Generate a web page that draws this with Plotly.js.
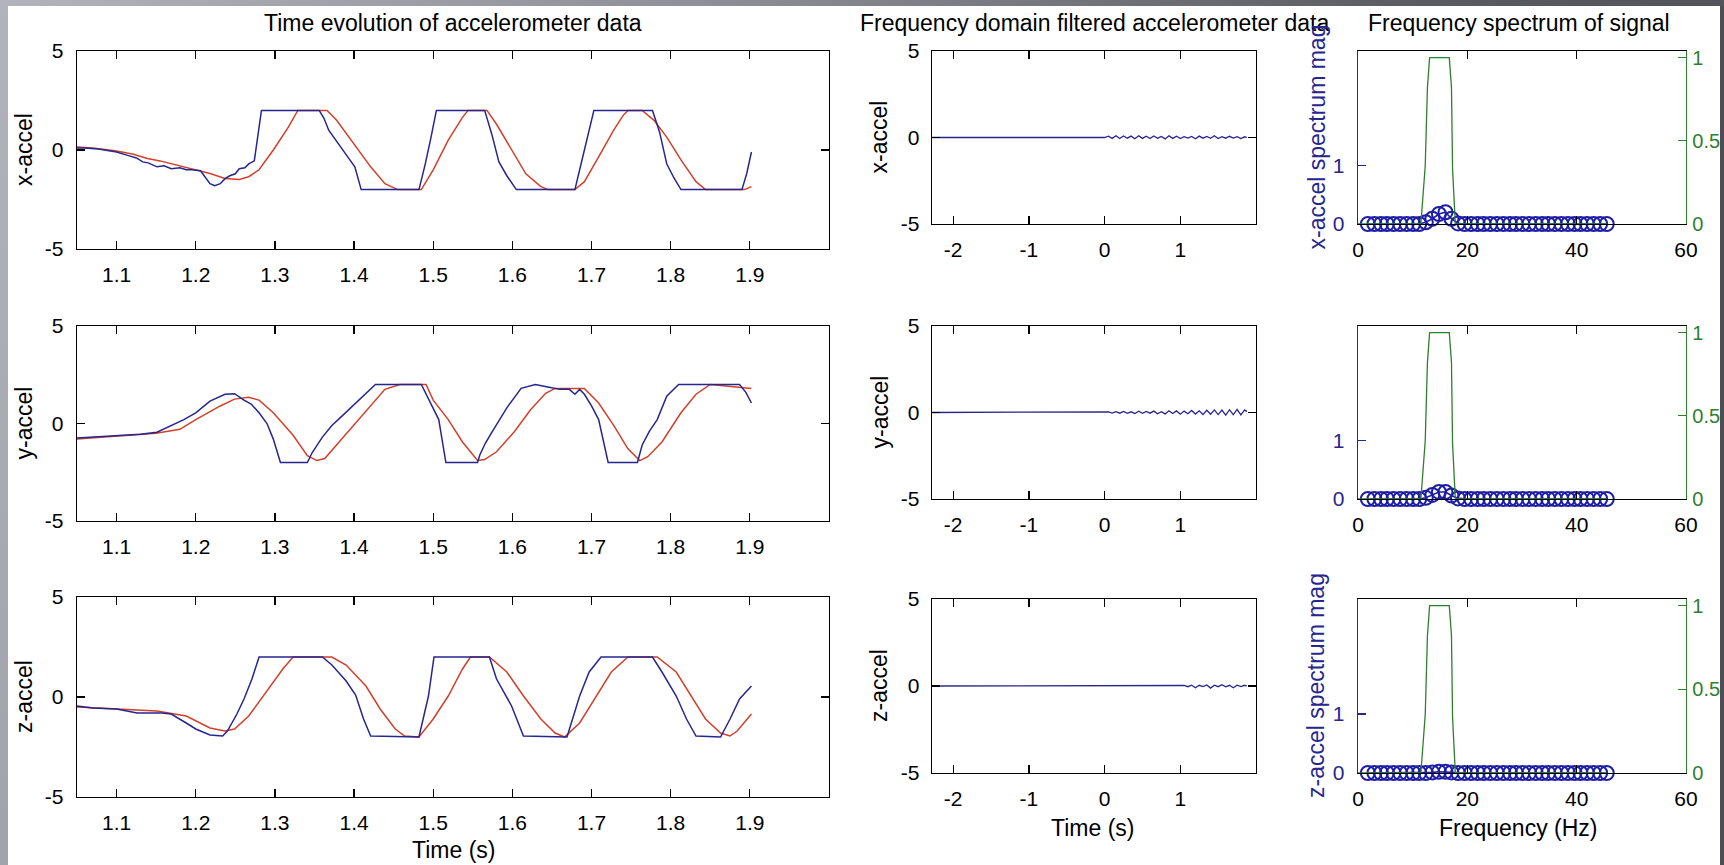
<!DOCTYPE html>
<html>
<head>
<meta charset="utf-8">
<script src="https://cdn.plot.ly/plotly-3.0.1.min.js"></script>
<style>
html,body{margin:0;padding:0;width:1724px;height:865px;overflow:hidden;
background:linear-gradient(110deg,#b3b3bb 0%,#8e8e96 35%,#5a5a61 70%,#4c4c52 100%);}
#chart{position:absolute;left:8px;top:6px;width:1716px;height:859px;background:#fff;}
</style>
</head>
<body>
<div id="chart"></div>
<script>
// ---------- DATA ----------
// Time evolution (left column): blue = raw, red = smoothed
const tXblue = [1.05,1.06,1.077,1.09,1.10,1.114,1.125,1.133,1.14,1.151,1.16,1.169,1.18,1.188,1.195,1.206,1.212,1.218,1.224,1.231,1.237,1.243,1.25,1.255,1.262,1.267,1.274,1.283,1.356,1.362,1.368,1.38,1.392,1.401,1.409,1.482,1.49,1.497,1.504,1.565,1.574,1.583,1.593,1.605,1.679,1.691,1.703,1.777,1.786,1.795,1.804,1.813,1.89,1.896,1.902];
const xAccelBlue = [0.1,0.1,0.05,-0.05,-0.1,-0.27,-0.4,-0.6,-0.65,-0.85,-0.8,-0.95,-0.9,-1.0,-1.0,-1.05,-1.35,-1.7,-1.8,-1.7,-1.45,-1.3,-1.2,-0.95,-0.9,-0.7,-0.55,2.0,2.0,1.6,1.0,0.3,-0.35,-0.85,-2.0,-2.0,-0.7,0.6,2.0,2.0,0.8,-0.6,-1.3,-2.0,-2.0,0.0,2.0,2.0,0.9,-0.7,-1.4,-2.0,-2.0,-1.2,-0.1];
const tXred = [1.05,1.07,1.09,1.10,1.12,1.139,1.155,1.169,1.185,1.2,1.218,1.237,1.255,1.267,1.28,1.298,1.317,1.329,1.366,1.378,1.396,1.421,1.439,1.455,1.485,1.5,1.519,1.537,1.544,1.568,1.58,1.599,1.617,1.636,1.645,1.679,1.691,1.709,1.728,1.74,1.746,1.764,1.779,1.795,1.813,1.832,1.844,1.893,1.902];
const xAccelRed = [0.15,0.1,0.0,-0.05,-0.2,-0.43,-0.55,-0.69,-0.85,-0.99,-1.19,-1.44,-1.49,-1.35,-1.0,0.0,1.15,2.0,2.0,1.5,0.5,-0.85,-1.7,-2.0,-2.0,-1.0,0.5,1.65,2.0,2.0,1.3,0.0,-1.2,-1.85,-2.0,-2.0,-1.6,-0.35,1.0,1.75,2.0,2.0,1.5,0.65,-0.5,-1.6,-2.0,-2.0,-1.85];

const tYblue = [1.05,1.07,1.1,1.13,1.151,1.169,1.185,1.2,1.218,1.237,1.249,1.261,1.27,1.28,1.29,1.298,1.307,1.341,1.347,1.36,1.372,1.384,1.396,1.415,1.427,1.485,1.488,1.497,1.507,1.516,1.556,1.559,1.566,1.574,1.593,1.611,1.629,1.648,1.66,1.672,1.679,1.685,1.691,1.7,1.709,1.721,1.758,1.764,1.773,1.783,1.795,1.81,1.887,1.895,1.902];
const yAccelBlue = [-0.75,-0.7,-0.6,-0.55,-0.45,-0.1,0.2,0.55,1.15,1.5,1.53,1.2,1.0,0.55,0.0,-0.8,-2.0,-2.0,-1.5,-0.7,-0.1,0.35,0.8,1.55,2.0,2.0,1.75,1.0,0.2,-2.0,-2.0,-1.6,-1.0,-0.45,0.8,1.8,2.0,1.85,1.75,1.75,1.5,1.75,1.5,0.9,0.2,-2.0,-2.0,-1.1,-0.4,0.2,1.4,2.0,2.0,1.6,1.05];
const tYred = [1.05,1.1,1.15,1.18,1.2,1.231,1.249,1.267,1.28,1.298,1.323,1.341,1.353,1.363,1.378,1.399,1.421,1.439,1.458,1.491,1.5,1.519,1.537,1.556,1.565,1.58,1.602,1.623,1.642,1.654,1.691,1.709,1.728,1.746,1.761,1.771,1.789,1.813,1.832,1.85,1.902];
const yAccelRed = [-0.8,-0.65,-0.5,-0.3,0.2,0.9,1.25,1.35,1.2,0.55,-0.6,-1.65,-1.9,-1.8,-1.1,-0.1,0.9,1.75,2.0,2.0,1.2,0.2,-0.95,-1.9,-1.85,-1.45,-0.45,0.7,1.55,1.8,1.8,1.05,-0.1,-1.3,-1.9,-1.7,-0.95,0.55,1.5,2.0,1.8];

const tZblue = [1.05,1.07,1.1,1.126,1.157,1.169,1.188,1.2,1.218,1.234,1.24,1.252,1.261,1.271,1.28,1.36,1.372,1.39,1.402,1.412,1.421,1.482,1.494,1.501,1.571,1.58,1.599,1.614,1.669,1.685,1.697,1.712,1.777,1.789,1.807,1.82,1.832,1.863,1.875,1.887,1.902];
const zAccelBlue = [-0.45,-0.55,-0.6,-0.8,-0.8,-0.85,-1.3,-1.6,-1.9,-1.95,-1.7,-0.85,-0.1,0.9,2.0,2.0,1.6,0.8,0.1,-1.1,-1.95,-2.0,0.05,2.0,2.0,0.9,-0.45,-1.95,-2.0,0.05,1.25,2.0,2.0,1.25,0.05,-1.1,-1.95,-2.0,-1.1,-0.1,0.55];
const tZred = [1.05,1.1,1.151,1.188,1.2,1.218,1.237,1.249,1.267,1.289,1.31,1.323,1.372,1.39,1.415,1.433,1.452,1.464,1.482,1.5,1.519,1.537,1.547,1.571,1.593,1.614,1.636,1.654,1.666,1.685,1.706,1.725,1.746,1.783,1.807,1.826,1.844,1.863,1.875,1.884,1.902];
const zAccelRed = [-0.5,-0.6,-0.7,-0.95,-1.2,-1.55,-1.7,-1.6,-0.95,0.25,1.4,2.0,2.0,1.6,0.55,-0.6,-1.6,-1.95,-2.0,-1.1,0.05,1.4,2.0,2.0,1.25,0.05,-1.1,-1.8,-2.0,-1.3,0.05,1.25,2.0,2.0,1.25,0.05,-1.1,-1.8,-1.95,-1.7,-0.85];

// Frequency-domain filtered signals (middle column)
const tFilt = [-2.28,0,0.05,0.1,0.15,0.2,0.25,0.3,0.35,0.4,0.45,0.5,0.55,0.6,0.65,0.7,0.75,0.8,0.85,0.9,0.95,1.0,1.05,1.1,1.15,1.2,1.25,1.3,1.35,1.4,1.45,1.5,1.55,1.6,1.65,1.7,1.75,1.8,1.85,1.88];
const xFilt = [0,0,0.08,-0.05,0.1,-0.06,0.09,-0.04,0.08,-0.07,0.1,-0.05,0.07,-0.06,0.09,-0.04,0.06,-0.08,0.1,-0.05,0.07,-0.06,0.05,-0.03,0.06,-0.07,0.08,-0.04,0.06,-0.05,0.1,-0.06,0.05,-0.04,0.07,-0.03,0.05,-0.06,0.04,0.0];
const yFilt = [0,0,0.04,-0.03,0.05,-0.04,0.06,-0.05,0.04,-0.06,0.07,-0.05,0.06,-0.04,0.08,-0.07,0.05,-0.08,0.1,-0.06,0.09,-0.1,0.08,-0.07,0.12,-0.09,0.1,-0.12,0.13,-0.1,0.15,-0.12,0.14,-0.15,0.16,-0.13,0.18,-0.14,0.15,0.05];
const zFilt = [0,0,0,0,0,0,0,0,0,0,0,0,0,0,0,0,0,0,0,0,0,0,0.03,-0.04,0.05,-0.1,0.04,-0.03,0.06,-0.12,0.05,-0.04,0.07,-0.05,0.04,-0.1,0.05,-0.03,0.04,0.0];

// Frequency spectrum (right column)
const freqHz = [1.8,3.0,4.2,5.3,6.5,7.7,8.9,10.1,11.2,12.4,13.6,14.8,16.0,17.1,18.3,19.5,20.7,21.9,23.0,24.2,25.4,26.6,27.8,28.9,30.1,31.3,32.5,33.7,34.8,36.0,37.2,38.4,39.6,40.7,41.9,43.1,44.3,45.5];
const xSpec = [0,0,0,0,0,0,0,0,0,0.03,0.09,0.17,0.2,0.09,0.01,0,0,0,0,0,0,0,0,0,0,0,0,0,0,0,0,0,0,0,0,0,0,0];
const ySpec = [0,0,0,0,0,0,0,0,0,0.02,0.07,0.12,0.12,0.06,0.01,0,0,0,0,0,0,0,0,0,0,0,0,0,0,0,0,0,0,0,0,0,0,0];
const zSpec = [0,0,0,0,0,0,0,0,0,0,0.01,0.02,0.02,0.01,0,0,0,0,0,0,0,0,0,0,0,0,0,0,0,0,0,0,0,0,0,0,0,0];
const filterHz = [0,11.5,12.3,12.7,13.1,16.7,17.1,17.3,17.8,45.5];
const filterGain = [0,0,0.35,0.82,1,1,0.82,0.33,0,0];

// Tick labels
const timeTicks = [1.1,1.2,1.3,1.4,1.5,1.6,1.7,1.8,1.9];
const timeTickText = ['1.1','1.2','1.3','1.4','1.5','1.6','1.7','1.8','1.9'];
const filtTicks = [-2,-1,0,1];
const filtTickText = ['-2','-1','0','1'];
const freqTicks = [0,20,40,60];
const freqTickText = ['0','20','40','60'];
const accelTicks = [-5,0,5];
const accelTickText = ['-5','0','5'];
const specTicksL = [0,1];
const specTickTextL = ['0','1'];
const specTicksR = [0,0.5,1];
const specTickTextR = ['0','0.5','1'];

// ---------- LAYOUT ----------
const FONT = 'Liberation Sans, Arial, Helvetica, sans-serif';
const W = 1716, H = 859, OX = 8, OY = 6;
const px = x => (x - OX) / W;
const py = y => 1 - (y - OY) / H;
const NAVY = '#26268f', RED = '#d0402a', GREEN = '#2f7f2f', MARK = '#1e1ea6';

function ax(extra) {
  return Object.assign({
    showline: true, linecolor: '#000', linewidth: 1.3, mirror: 'ticks',
    ticks: 'inside', ticklen: 8, tickwidth: 1.3, tickcolor: '#000',
    showgrid: false, zeroline: false, fixedrange: true,
    tickfont: {family: FONT, size: 21, color: '#000'}
  }, extra);
}

const colL = [px(77), px(829)], colM = [px(932), px(1256)], colR = [px(1358), px(1686)];
const rowsL = [[py(249), py(51)], [py(521), py(326)], [py(797), py(597)]];
const rowsM = [[py(224), py(51)], [py(499), py(326)], [py(773), py(599)]];

const layout = {
  width: W, height: H, margin: {l: 0, r: 0, t: 0, b: 0},
  paper_bgcolor: '#fff', plot_bgcolor: 'rgba(0,0,0,0)', showlegend: false,
  font: {family: FONT, color: '#000'},
  annotations: [],
  shapes: [{type: 'rect', xref: 'paper', yref: 'paper', x0: px(1720), x1: 1, y0: 0, y1: 1,
    fillcolor: '#4d4d53', line: {width: 0}, layer: 'below'}]
};

const leftRows = [[tXblue, xAccelBlue, tXred, xAccelRed],
                  [tYblue, yAccelBlue, tYred, yAccelRed],
                  [tZblue, zAccelBlue, tZred, zAccelRed]];
const midRows = [xFilt, yFilt, zFilt];
const specRows = [xSpec, ySpec, zSpec];
const traces = [];

for (let r = 0; r < 3; r++) {
  const a = r + 1, m = r + 4, s = r + 7, s2 = r + 10;
  // left column
  layout['xaxis' + a] = ax({domain: colL, range: [1.05, 2.0], anchor: 'y' + a,
    tickvals: timeTicks, ticktext: timeTickText, ticklabelstandoff: 6});
  layout['yaxis' + a] = ax({domain: rowsL[r], range: [-5, 5], anchor: 'x' + a,
    tickvals: accelTicks, ticktext: accelTickText, ticklabelstandoff: 8});
  const L = leftRows[r];
  traces.push({x: L[2], y: L[3], xaxis: 'x' + a, yaxis: 'y' + a, mode: 'lines',
    line: {color: RED, width: 1.5}});
  traces.push({x: L[0], y: L[1], xaxis: 'x' + a, yaxis: 'y' + a, mode: 'lines',
    line: {color: NAVY, width: 1.5}});

  // middle column
  layout['xaxis' + m] = ax({domain: colM, range: [-2.28, 2.0], anchor: 'y' + m,
    tickvals: filtTicks, ticktext: filtTickText, ticklabelstandoff: 6});
  layout['yaxis' + m] = ax({domain: rowsM[r], range: [-5, 5], anchor: 'x' + m,
    tickvals: accelTicks, ticktext: accelTickText, ticklabelstandoff: 7});
  traces.push({x: tFilt, y: midRows[r], xaxis: 'x' + m, yaxis: 'y' + m, mode: 'lines',
    line: {color: NAVY, width: 1.3}});

  // right column (two y axes)
  layout['xaxis' + s] = ax({domain: colR, range: [0, 60], anchor: 'y' + s,
    tickvals: freqTicks, ticktext: freqTickText, ticklabelstandoff: 6});
  layout['yaxis' + s] = ax({domain: rowsM[r], range: [0, 2.95], anchor: 'x' + s,
    tickvals: specTicksL, ticktext: specTickTextL, mirror: false, linecolor: NAVY, tickcolor: NAVY,
    tickfont: {family: FONT, size: 21, color: NAVY}, ticklabelstandoff: 8});
  layout['yaxis' + s2] = ax({range: [0, 1.04], anchor: 'x' + s, overlaying: 'y' + s,
    side: 'right', tickvals: specTicksR, ticktext: specTickTextR, mirror: false,
    linecolor: GREEN, tickcolor: GREEN,
    tickfont: {family: FONT, size: 20, color: GREEN}, ticklabelstandoff: 1});
  traces.push({x: filterHz, y: filterGain, xaxis: 'x' + s, yaxis: 'y' + s2, mode: 'lines',
    line: {color: GREEN, width: 1.3}});
  traces.push({x: freqHz, y: specRows[r], xaxis: 'x' + s, yaxis: 'y' + s, mode: 'lines+markers',
    cliponaxis: false, line: {color: MARK, width: 1.6},
    marker: {symbol: 'circle-open', size: 14, color: MARK, line: {width: 2, color: MARK}}});
}

function note(text, x, y, opts) {
  layout.annotations.push(Object.assign({text: text, x: px(x), y: py(y), xref: 'paper', yref: 'paper',
    xanchor: 'center', yanchor: 'middle', showarrow: false,
    font: {family: FONT, size: 23, color: '#000'}}, opts || {}));
}
note('Time evolution of accelerometer data', 453, 23);
note('Frequency domain filtered accelerometer data', 1094, 23);
note('Frequency spectrum of signal', 1519, 23);
note('x-accel', 24, 150, {textangle: -90});
note('y-accel', 24, 423.5, {textangle: -90});
note('z-accel', 24, 697, {textangle: -90});
note('x-accel', 879, 137.5, {textangle: -90});
note('y-accel', 879, 412.5, {textangle: -90});
note('z-accel', 879, 686, {textangle: -90});
note('x-accel spectrum mag', 1317, 137.5, {textangle: -90, font: {family: FONT, size: 23, color: NAVY}});
note('z-accel spectrum mag', 1316, 686, {textangle: -90, font: {family: FONT, size: 23, color: NAVY}});
note('Time (s)', 453, 850);
note('Time (s)', 1092, 828);
note('Frequency (Hz)', 1518, 828);

Plotly.newPlot('chart', traces, layout, {staticPlot: true, displayModeBar: false});
</script>
</body>
</html>
